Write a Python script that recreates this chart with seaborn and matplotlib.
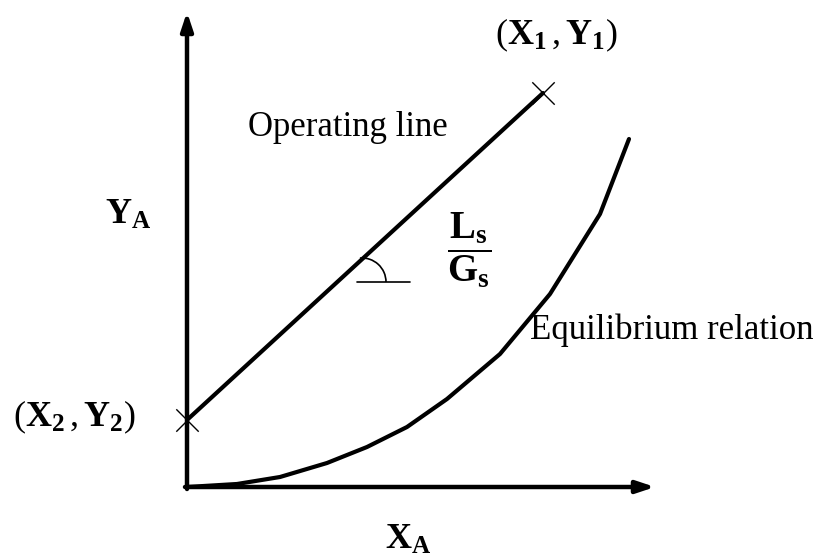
import matplotlib
matplotlib.use('Agg')
import matplotlib.pyplot as plt
from matplotlib.patches import Arc
import pandas as pd
import seaborn as sns

# 操作线端点 (X2,Y2) -> (X1,Y1)
op_x = [0.0, 3.56]
op_y = [0.67, 3.94]
# 平衡关系曲线（从图上读取的点）
eq_x = [0.0, 0.50, 0.93, 1.40, 1.80, 2.20, 2.60, 3.13, 3.63, 4.13, 4.42]
eq_y = [0.0, 0.03, 0.10, 0.24, 0.40, 0.60, 0.88, 1.33, 1.93, 2.73, 3.48]
# 坐标轴长度
x_axis_end = 4.68
y_axis_end = 4.75

sns.set_theme(style='white')
plt.rcParams['font.family'] = ['Liberation Serif', 'DejaVu Serif']
plt.rcParams['text.color'] = 'black'
plt.rcParams['mathtext.fontset'] = 'custom'
plt.rcParams['mathtext.rm'] = 'Liberation Serif'
plt.rcParams['mathtext.it'] = 'Liberation Serif:italic'
plt.rcParams['mathtext.bf'] = 'Liberation Serif:bold'

fig = plt.figure(figsize=(8.34, 5.59), dpi=100)
ax = fig.add_axes([0, 0, 1, 1])
ax.set_xlim(-1.87, 6.47)
ax.set_ylim(-0.72, 4.87)
ax.set_aspect('equal')
ax.axis('off')

# 坐标轴箭头
arrow = dict(arrowstyle='-|>,head_length=0.9,head_width=0.3', lw=3.2, color='black',
             shrinkA=0, shrinkB=0)
ax.annotate('', xy=(x_axis_end, 0), xytext=(-0.02, 0), arrowprops=arrow)
ax.annotate('', xy=(0, y_axis_end), xytext=(0, -0.02), arrowprops=arrow)

op_df = pd.DataFrame({'x': op_x, 'y': op_y})
eq_df = pd.DataFrame({'x': eq_x, 'y': eq_y})
sns.lineplot(data=op_df, x='x', y='y', color='black', lw=3.0, sort=False, ax=ax)
sns.lineplot(data=eq_df, x='x', y='y', color='black', lw=3.0, sort=False, ax=ax)
sns.scatterplot(data=op_df, x='x', y='y', marker='x', s=260, color='black',
                linewidth=1.0, ax=ax, zorder=5)

# 斜率角标记
ax.plot([1.70, 2.23], [2.05, 2.05], color='black', lw=1.2)
ax.add_patch(Arc((1.75, 2.05), 0.48, 0.48, theta1=0, theta2=95, color='black', lw=1.2))

ax.text(0.61, 3.59, 'Operating line', fontsize=25, ha='left', va='center')
ax.text(3.43, 1.57, 'Equilibrium relation', fontsize=25, ha='left', va='center')
ax.text(3.08, 4.52, r'$(\mathbf{X_1}\,,\mathbf{Y_1})$', fontsize=26, ha='left', va='center')
ax.text(-1.74, 0.70, r'$(\mathbf{X_2}\,,\mathbf{Y_2})$', fontsize=26, ha='left', va='center')
ax.text(-0.82, 2.72, r'$\mathbf{Y_A}$', fontsize=26, ha='left', va='center')
ax.text(2.21, -0.53, r'$\mathbf{X_A}$', fontsize=26, ha='center', va='center')
ax.text(2.82, 2.37, r'$\dfrac{\mathbf{L_s}}{\mathbf{G_s}}$', fontsize=28,
        ha='center', va='center')

fig.savefig('out.png', dpi=100)
